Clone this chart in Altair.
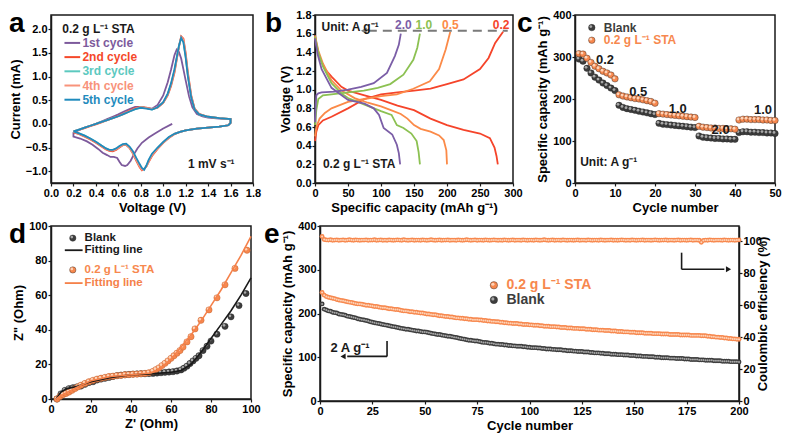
import altair as alt
import pandas as pd

FONT = "Liberation Sans"
INK = "#1a1a1a"
SUP = "\u207b\u00b9"

# ---------------- panel a : cyclic voltammetry ----------------
cv_names = ["1st cycle", "2nd cycle", "3rd cycle", "4th cycle", "5th cycle"]
cv_colors = ["#7d5a9c", "#f5482a", "#5cc9bf", "#f8937b", "#1f8bbd"]

cv1_v = [1.08, 1.00, 0.93, 0.87, 0.81, 0.77, 0.74, 0.71, 0.68, 0.66, 0.63, 0.61, 0.59, 0.56, 0.53, 0.50, 0.46, 0.42, 0.37, 0.32, 0.26, 0.20,
         0.20, 0.25, 0.30, 0.35, 0.40, 0.45, 0.50, 0.55, 0.60, 0.65, 0.70, 0.75, 0.80, 0.85, 0.90, 0.95, 1.00, 1.04, 1.07, 1.10, 1.12, 1.14, 1.16, 1.18, 1.20, 1.23, 1.26, 1.30, 1.35, 1.40, 1.50, 1.60,
         1.60, 1.58, 1.50, 1.40, 1.30, 1.20, 1.15, 1.10]
cv1_i = [0.00, -0.10, -0.20, -0.29, -0.40, -0.52, -0.64, -0.78, -0.87, -0.89, -0.87, -0.80, -0.72, -0.70, -0.70, -0.66, -0.61, -0.53, -0.44, -0.37, -0.31, -0.27,
         -0.19, -0.13, -0.08, -0.04, 0.00, 0.05, 0.10, 0.15, 0.20, 0.26, 0.31, 0.36, 0.36, 0.33, 0.32, 0.40, 0.60, 0.88, 1.15, 1.45, 1.57, 1.52, 1.38, 1.15, 0.92, 0.58, 0.35, 0.21, 0.16, 0.13, 0.11, 0.10,
         0.02, -0.03, -0.06, -0.08, -0.10, -0.14, -0.17, -0.21]

cv_loop_v = [0.20, 0.25, 0.30, 0.35, 0.40, 0.45, 0.50, 0.55, 0.60, 0.65, 0.70, 0.75, 0.80, 0.85, 0.90, 0.95, 1.00, 1.04, 1.07, 1.10, 1.12, 1.14, 1.16, 1.18, 1.20, 1.22, 1.25, 1.28, 1.32, 1.40, 1.50, 1.60,
             1.60, 1.58, 1.50, 1.40, 1.30, 1.20, 1.15, 1.10, 1.05, 1.00, 0.95, 0.90, 0.87, 0.85, 0.83, 0.81, 0.79, 0.76, 0.73, 0.70, 0.67, 0.64, 0.61, 0.58, 0.55, 0.52, 0.49, 0.45, 0.40, 0.35, 0.30, 0.25, 0.20]
cv2_i = [-0.17, -0.13, -0.09, -0.05, -0.01, 0.03, 0.08, 0.12, 0.17, 0.22, 0.28, 0.33, 0.36, 0.34, 0.31, 0.34, 0.44, 0.60, 0.80, 1.08, 1.35, 1.62, 1.85, 1.80, 1.50, 1.08, 0.60, 0.32, 0.21, 0.15, 0.12, 0.10,
         0.02, -0.03, -0.06, -0.08, -0.10, -0.14, -0.17, -0.22, -0.30, -0.40, -0.53, -0.68, -0.81, -0.90, -0.95, -0.98, -0.92, -0.78, -0.63, -0.51, -0.45, -0.45, -0.50, -0.55, -0.58, -0.57, -0.54, -0.48, -0.40, -0.33, -0.27, -0.22, -0.18]
cv3_i = [-0.16, -0.12, -0.08, -0.04, 0.00, 0.04, 0.08, 0.12, 0.16, 0.21, 0.26, 0.31, 0.35, 0.33, 0.30, 0.35, 0.45, 0.63, 0.84, 1.13, 1.38, 1.64, 1.82, 1.74, 1.42, 1.02, 0.56, 0.31, 0.20, 0.15, 0.12, 0.10,
         0.02, -0.03, -0.06, -0.08, -0.10, -0.14, -0.17, -0.21, -0.29, -0.39, -0.51, -0.65, -0.78, -0.89, -0.96, -0.95, -0.88, -0.75, -0.61, -0.50, -0.44, -0.44, -0.48, -0.53, -0.56, -0.55, -0.52, -0.46, -0.38, -0.31, -0.25, -0.20, -0.16]
cv4_i = [-0.16, -0.12, -0.08, -0.04, 0.00, 0.04, 0.08, 0.12, 0.16, 0.21, 0.27, 0.32, 0.35, 0.33, 0.31, 0.35, 0.45, 0.62, 0.83, 1.11, 1.37, 1.64, 1.84, 1.78, 1.46, 1.04, 0.58, 0.31, 0.20, 0.15, 0.12, 0.10,
         0.02, -0.03, -0.06, -0.08, -0.10, -0.14, -0.17, -0.21, -0.29, -0.39, -0.52, -0.66, -0.80, -0.90, -0.96, -0.97, -0.90, -0.76, -0.62, -0.50, -0.44, -0.44, -0.49, -0.54, -0.56, -0.56, -0.53, -0.47, -0.39, -0.32, -0.26, -0.21, -0.17]
cv5_i = [-0.16, -0.12, -0.08, -0.04, 0.00, 0.04, 0.08, 0.12, 0.16, 0.21, 0.26, 0.31, 0.34, 0.32, 0.30, 0.35, 0.46, 0.64, 0.86, 1.15, 1.40, 1.65, 1.82, 1.72, 1.40, 1.00, 0.55, 0.30, 0.20, 0.15, 0.12, 0.10,
         0.02, -0.03, -0.06, -0.08, -0.10, -0.14, -0.17, -0.21, -0.28, -0.38, -0.50, -0.63, -0.76, -0.88, -0.97, -0.93, -0.85, -0.72, -0.58, -0.48, -0.42, -0.43, -0.47, -0.52, -0.55, -0.55, -0.52, -0.46, -0.38, -0.31, -0.25, -0.20, -0.16]

# ---------------- panel b : charge / discharge ----------------
gcd_rates = ["0.2", "0.5", "1.0", "2.0"]
gcd_colors = ["#f5442a", "#fb8a48", "#8cc152", "#7b5ea7"]
dis_cap = {
    "0.2": [0, 3, 8, 15, 25, 40, 50, 75, 100, 125, 150, 175, 200, 225, 250, 265, 272, 275, 277],
    "0.5": [0, 5, 12, 25, 40, 60, 80, 100, 115, 130, 140, 150, 160, 175, 188, 195, 199, 200],
    "1.0": [0, 5, 12, 25, 40, 50, 75, 100, 116, 124, 134, 146, 154, 157, 159],
    "2.0": [0, 4, 10, 25, 50, 75, 89, 97, 104, 117, 124, 127, 129],
}
dis_v = {
    "0.2": [1.58, 1.45, 1.33, 1.22, 1.14, 1.03, 0.99, 0.94, 0.89, 0.83, 0.78, 0.69, 0.62, 0.57, 0.53, 0.48, 0.38, 0.29, 0.20],
    "0.5": [1.58, 1.42, 1.28, 1.10, 0.99, 0.91, 0.86, 0.82, 0.78, 0.74, 0.69, 0.62, 0.58, 0.55, 0.51, 0.46, 0.35, 0.20],
    "1.0": [1.57, 1.40, 1.25, 1.07, 0.96, 0.91, 0.84, 0.77, 0.73, 0.62, 0.59, 0.53, 0.45, 0.33, 0.20],
    "2.0": [1.55, 1.38, 1.22, 1.02, 0.89, 0.85, 0.80, 0.73, 0.59, 0.52, 0.41, 0.32, 0.20],
}
chg_cap = {
    "0.2": [0, 2, 5, 12, 25, 50, 75, 100, 125, 150, 175, 200, 225, 250, 263, 273, 285],
    "0.5": [0, 2, 7, 15, 25, 50, 75, 100, 124, 149, 174, 188, 198, 205],
    "1.0": [0, 2, 5, 12, 25, 50, 74, 95, 114, 134, 149, 155, 159],
    "2.0": [0, 1, 2, 5, 10, 30, 50, 70, 89, 109, 121, 127, 130],
}
chg_v = {
    "0.2": [0.45, 0.55, 0.62, 0.67, 0.71, 0.80, 0.90, 0.95, 0.97, 0.99, 1.01, 1.06, 1.11, 1.22, 1.34, 1.50, 1.62],
    "0.5": [0.50, 0.60, 0.69, 0.75, 0.80, 0.87, 0.90, 0.93, 0.95, 1.01, 1.09, 1.22, 1.43, 1.62],
    "1.0": [0.62, 0.78, 0.90, 0.94, 0.95, 0.97, 0.99, 1.02, 1.06, 1.16, 1.32, 1.45, 1.60],
    "2.0": [0.65, 0.82, 0.94, 0.96, 0.97, 0.98, 1.00, 1.03, 1.07, 1.18, 1.36, 1.48, 1.60],
}

# ---------------- panel c : rate capability ----------------
rate_cycles = list(range(1, 51))
rate_blank = [295, 290, 273, 262, 252, 245, 238, 232, 226, 220,
              185, 180, 177, 175, 173, 171, 169, 167, 165, 163,
              142, 140, 139, 138, 137, 136, 135, 134, 133, 132,
              112, 109, 108, 107, 106, 106, 105, 105, 104, 104,
              120, 122, 122, 121, 121, 120, 120, 119, 119, 118]
rate_sta = [308, 307, 297, 287, 278, 272, 266, 262, 257, 248,
            210, 207, 205, 203, 201, 200, 198, 196, 194, 190,
            165, 164, 163, 162, 161, 160, 159, 158, 157, 156,
            135, 133, 132, 131, 131, 130, 130, 129, 129, 128,
            150, 152, 152, 151, 151, 151, 150, 150, 149, 149]

# ---------------- panel d : Nyquist ----------------
eis_blank_x = [3, 5, 7, 9, 11, 13, 15, 17, 19, 21, 23, 25, 27, 29, 31, 33, 35, 37, 39, 41, 43, 45, 47, 49, 51, 53, 55, 57, 59, 61, 63, 65, 66.5, 68, 69.5, 71, 72.5, 74, 76, 78, 80, 83, 87, 90, 94, 97.5]
eis_blank_y = [0, 3, 5, 6, 6.5, 7, 7.5, 8.5, 9.5, 10, 11, 11.5, 12, 12.5, 13, 13.5, 13.8, 14, 14.2, 14.4, 14.5, 14.6, 14.6, 14.7, 14.8, 15, 15.2, 15.4, 15.6, 15.8, 16.2, 16.8, 17.8, 19, 20.5, 22, 23.5, 25, 28, 30.5, 33.5, 37.5, 42, 47.5, 54, 61]
eis_blank_fx = [2.5, 5, 8, 12, 20, 30, 40, 50, 60, 65, 70, 75, 80, 85, 90, 95, 100]
eis_blank_fy = [0, 4, 6, 7, 10, 12.5, 14, 14.5, 15.5, 16.5, 20, 27, 35, 43, 51, 60, 70]
eis_sta_x = [3, 4.5, 6, 7.5, 9, 10.5, 12, 13.5, 15, 17, 19, 21, 23, 25, 27, 29, 31, 33, 35, 37, 39, 41, 43, 45, 47, 49, 51, 52.5, 54, 55.5, 57, 58.5, 60, 61.5, 63, 64.5, 66, 68, 70, 72, 75, 79, 83, 87, 92, 98]
eis_sta_y = [0, 1.5, 2.5, 3.2, 4, 5, 6, 7, 8, 9, 10, 10.8, 11.5, 12, 12.5, 13, 13.2, 13.5, 13.7, 14, 14.1, 14.3, 14.4, 14.6, 14.8, 15.2, 16, 17, 18, 19.3, 20.6, 22, 23.5, 25, 26.5, 28, 30, 33, 36, 40.5, 45.5, 51.5, 58.5, 66, 75.5, 86]
eis_sta_fx = [2.5, 5, 10, 15, 20, 30, 40, 50, 55, 60, 65, 70, 75, 80, 85, 90, 95, 100]
eis_sta_fy = [0, 2, 5, 8, 10.5, 13, 14, 15, 17.5, 23, 30, 37, 45, 54, 63, 73, 83, 94]

# ---------------- panel e : long cycling ----------------
cyc_n = list(range(1, 201))
cyc_blank = [222, 210, 208, 206, 205, 203, 202, 201, 199, 198,
             197, 196, 194, 193, 192, 191, 190, 188, 187, 186,
             185, 184, 183, 181, 180, 179, 178, 177, 176, 175,
             174, 173, 172, 171, 170, 169, 168, 167, 166, 165,
             164, 164, 163, 162, 161, 160, 160, 159, 158, 158,
             157, 156, 155, 154, 153, 152, 152, 151, 150, 149,
             148, 148, 147, 146, 145, 144, 143, 142, 141, 140,
             139, 139, 138, 137, 137, 136, 135, 134, 134, 133,
             132, 132, 131, 130, 130, 129, 129, 128, 128, 127,
             127, 126, 126, 125, 125, 125, 124, 124, 123, 123,
             122, 122, 122, 121, 121, 120, 120, 119, 119, 119,
             118, 118, 117, 117, 117, 116, 116, 115, 115, 115,
             114, 114, 113, 113, 113, 112, 112, 112, 111, 111,
             110, 110, 110, 109, 109, 108, 108, 108, 107, 107,
             107, 106, 106, 106, 105, 105, 105, 104, 104, 104,
             103, 103, 103, 102, 102, 102, 101, 101, 101, 100,
             100, 100, 99, 99, 99, 99, 98, 98, 98, 97,
             97, 97, 97, 96, 96, 96, 95, 95, 95, 95,
             94, 94, 94, 93, 93, 93, 93, 92, 92, 92,
             92, 91, 91, 91, 91, 90, 90, 90, 90, 89]
cyc_sta = [248, 242, 239, 237, 236, 235, 234, 232, 231, 230,
           229, 228, 227, 226, 225, 224, 223, 222, 222, 221,
           220, 219, 219, 218, 217, 216, 216, 215, 214, 213,
           213, 212, 211, 211, 210, 209, 209, 208, 207, 206,
           206, 205, 204, 204, 203, 203, 202, 201, 201, 200,
           199, 199, 198, 197, 197, 196, 195, 195, 194, 193,
           193, 192, 192, 191, 190, 190, 189, 189, 188, 188,
           187, 187, 186, 186, 186, 185, 185, 184, 184, 183,
           183, 182, 182, 181, 181, 180, 180, 179, 179, 178,
           178, 177, 177, 177, 176, 176, 175, 175, 175, 174,
           174, 173, 173, 173, 172, 172, 171, 171, 171, 170,
           170, 170, 169, 169, 168, 168, 168, 167, 167, 167,
           166, 166, 166, 165, 165, 165, 164, 164, 164, 163,
           163, 163, 162, 162, 162, 161, 161, 161, 160, 160,
           160, 159, 159, 159, 158, 158, 158, 157, 157, 157,
           156, 156, 156, 156, 155, 155, 155, 155, 154, 154,
           154, 154, 153, 153, 153, 153, 152, 152, 152, 152,
           152, 151, 151, 151, 151, 151, 150, 150, 150, 150,
           150, 149, 149, 149, 148, 148, 147, 147, 146, 146,
           145, 145, 144, 144, 143, 143, 142, 142, 141, 141]
cyc_ce = [102.8, 101.0, 100.7, 100.6, 100.8, 100.5, 100.6, 100.7, 100.5, 100.6,
          100.7, 100.5, 100.6, 100.8, 100.6, 100.5, 100.7, 100.6, 100.5, 100.6,
          100.6, 100.7, 100.5, 100.6, 100.6, 100.8, 100.5, 100.6, 100.7, 100.5,
          100.6, 100.5, 100.7, 100.6, 100.5, 100.6, 100.7, 100.6, 100.5, 100.8,
          100.6, 100.5, 100.6, 100.7, 100.5, 100.6, 100.6, 100.5, 100.7, 100.6,
          100.5, 100.6, 100.8, 100.6, 100.5, 100.6, 100.7, 100.5, 100.6, 100.6,
          100.7, 100.5, 100.6, 100.6, 100.5, 100.7, 100.6, 100.5, 100.6, 100.8,
          100.6, 100.5, 100.6, 100.7, 100.5, 100.6, 100.6, 100.5, 100.7, 100.6,
          100.5, 100.6, 100.7, 100.6, 100.5, 100.6, 100.5, 100.7, 100.6, 100.5,
          100.6, 100.7, 100.5, 100.6, 100.6, 100.5, 100.7, 100.6, 100.5, 100.6,
          100.6, 100.5, 100.7, 100.6, 100.5, 100.6, 100.8, 100.6, 100.5, 100.6,
          100.7, 100.5, 100.6, 100.6, 100.5, 100.7, 100.6, 100.5, 100.6, 100.6,
          100.5, 100.6, 100.7, 100.5, 100.6, 100.6, 100.5, 100.7, 100.6, 100.5,
          100.6, 100.6, 100.5, 100.7, 100.6, 100.5, 100.6, 100.6, 100.7, 100.5,
          100.6, 100.5, 100.6, 100.7, 100.6, 100.5, 100.6, 100.5, 100.7, 100.6,
          100.5, 100.6, 100.6, 100.7, 100.5, 100.6, 100.6, 100.5, 100.6, 100.7,
          100.6, 100.5, 100.6, 100.6, 100.7, 100.5, 100.6, 100.6, 100.5, 100.6,
          100.7, 100.5, 100.6, 100.6, 100.5, 100.6, 100.7, 100.5, 100.6, 100.6,
          100.5, 99.2, 100.4, 100.6, 100.5, 100.7, 100.6, 100.5, 100.6, 100.6,
          100.6, 100.5, 100.7, 100.6, 100.5, 100.6, 100.6, 100.5, 100.6, 100.7]

DARK = "#3d3d3d"
DARK_HL = "#a8a8a8"
ORNG = "#f7884e"
ORNG_HL = "#fdd3b8"

ONE = pd.DataFrame({"o": [0]})


def AX(**kw):
    return alt.Axis(labelOverlap=False, labelFlush=False, tickCount=40, **kw)


def txt(x, y, s, color=INK, size=12, align="left", baseline="middle"):
    return alt.Chart(ONE).mark_text(text=s, color=color, fontSize=size, fontWeight="bold",
                                    align=align, baseline=baseline, font=FONT).encode(
        x=alt.datum(x), y=alt.datum(y))


def seg(x1, x2, y1, y2, color, width=2.0, dash=None):
    kw = dict(color=color, strokeWidth=width)
    if dash:
        kw["strokeDash"] = dash
    return alt.Chart(ONE).mark_rule(**kw).encode(
        x=alt.datum(x1), x2=alt.datum(x2), y=alt.datum(y1), y2=alt.datum(y2))


def tri(x, y, shape, color, size=40):
    return alt.Chart(ONE).mark_point(shape=shape, filled=True, color=color, size=size, opacity=1).encode(
        x=alt.datum(x), y=alt.datum(y))


def dot(x, y, color, hl, size=40):
    return [alt.Chart(ONE).mark_circle(color=color, size=size, opacity=1, stroke="#222222", strokeWidth=0.4).encode(
                x=alt.datum(x), y=alt.datum(y)),
            alt.Chart(ONE).mark_circle(color=hl, size=size * 0.18, opacity=1, xOffset=-1, yOffset=-1).encode(
                x=alt.datum(x), y=alt.datum(y))]


def letter(ch, dx):
    return alt.Chart(ONE).mark_text(text=ch, fontSize=28, fontWeight="bold", align="left", baseline="top",
                                    font=FONT, color="black").encode(x=alt.value(dx), y=alt.value(-5))


# ======== panel a ========
rows = []
for name, vs, cs in [(cv_names[0], cv1_v, cv1_i), (cv_names[1], cv_loop_v, cv2_i), (cv_names[2], cv_loop_v, cv3_i),
                     (cv_names[3], cv_loop_v, cv4_i), (cv_names[4], cv_loop_v, cv5_i)]:
    for k, (v, c) in enumerate(zip(vs, cs)):
        rows.append({"cycle": name, "k": k, "v": v, "i": c})
df_cv = pd.DataFrame(rows)

xa = alt.X("v:Q", scale=alt.Scale(domain=[0, 1.8], nice=False, zero=False),
           axis=AX(values=[0.0, 0.2, 0.4, 0.6, 0.8, 1.0, 1.2, 1.4, 1.6, 1.8], format=".1f", title="Voltage (V)"))
ya = alt.Y("i:Q", scale=alt.Scale(domain=[-1.25, 2.3], nice=False, zero=False),
           axis=AX(values=[-1.0, -0.5, 0.0, 0.5, 1.0, 1.5, 2.0], format=".1f", title="Current (mA)"))
a_layers = []
for name, col in zip(cv_names, cv_colors):
    a_layers.append(alt.Chart(df_cv).transform_filter(alt.datum.cycle == name)
                    .mark_line(color=col, strokeWidth=1.8).encode(x=xa, y=ya, order="k:Q"))
a_layers.append(txt(0.10, 2.0, "0.2 g L" + SUP + " STA", INK, 12))
for j, (name, col) in enumerate(zip(cv_names, cv_colors)):
    yv = 1.71 - 0.30 * j
    a_layers.append(seg(0.12, 0.26, yv, yv, col, 2))
    a_layers.append(txt(0.28, yv, name, col, 12))
a_layers.append(txt(1.22, -0.85, "1 mV s" + SUP, INK, 12))
a_layers.append(letter("a", -42))
pa = alt.layer(*a_layers).properties(width=202, height=168)

# ======== panel b ========
rows = []
for r in gcd_rates:
    for k, (c, v) in enumerate(zip(dis_cap[r], dis_v[r])):
        rows.append({"rate": r, "br": "d", "k": k, "cap": c, "v": v})
    for k, (c, v) in enumerate(zip(chg_cap[r], chg_v[r])):
        rows.append({"rate": r, "br": "c", "k": k, "cap": c, "v": v})
df_b = pd.DataFrame(rows)
xb = alt.X("cap:Q", scale=alt.Scale(domain=[0, 300], nice=False),
           axis=AX(values=[0, 50, 100, 150, 200, 250, 300], title="Specific capacity (mAh g" + SUP + ")"))
yb = alt.Y("v:Q", scale=alt.Scale(domain=[0, 1.8], nice=False),
           axis=AX(values=[0.0, 0.2, 0.4, 0.6, 0.8, 1.0, 1.2, 1.4, 1.6, 1.8], format=".1f", title="Voltage (V)"))
b_layers = []
for r, col in zip(gcd_rates, gcd_colors):
    for br in ["d", "c"]:
        b_layers.append(alt.Chart(df_b).transform_filter((alt.datum.rate == r) & (alt.datum.br == br))
                        .mark_line(color=col, strokeWidth=1.8).encode(x=xb, y=yb, order="k:Q"))
b_layers.append(seg(80, 292, 1.63, 1.63, "#7a7a7a", 2, [9, 6]))
b_layers.append(tri(74, 1.63, "triangle-left", "#7a7a7a", 45))
for r, col, xc in zip(gcd_rates, gcd_colors, [282, 205, 165, 134]):
    b_layers.append(txt(xc, 1.69, r, col, 12, "center"))
b_layers.append(txt(10, 1.675, "Unit: A g" + SUP, INK, 12))
b_layers.append(txt(12, 0.2, "0.2 g L" + SUP + " STA", INK, 12))
b_layers.append(letter("b", -50))
pb = alt.layer(*b_layers).properties(width=198, height=168)

# ======== panel c ========
df_c = pd.DataFrame({"cyc": rate_cycles, "blank": rate_blank, "sta": rate_sta})
xc_ = alt.X("cyc:Q", scale=alt.Scale(domain=[0, 50], nice=False),
            axis=AX(values=[0, 10, 20, 30, 40, 50], title="Cycle number"))


def yc(field):
    return alt.Y(field + ":Q", scale=alt.Scale(domain=[0, 400], nice=False),
                 axis=AX(values=[0, 100, 200, 300, 400], title="Specific capacity (mAh g" + SUP + ")"))


c_layers = []
for field, col, hl in [("blank", DARK, DARK_HL), ("sta", ORNG, ORNG_HL)]:
    c_layers.append(alt.Chart(df_c).mark_circle(color=col, size=42, opacity=1, stroke="#222222", strokeWidth=0.4)
                    .encode(x=xc_, y=yc(field)))
    c_layers.append(alt.Chart(df_c).mark_circle(color=hl, size=8, opacity=1, xOffset=-1, yOffset=-1)
                    .encode(x=xc_, y=yc(field)))
c_layers += dot(4.2, 370, DARK, DARK_HL, 42)
c_layers.append(txt(7.2, 370, "Blank", DARK, 12))
c_layers += dot(4.2, 340, ORNG, ORNG_HL, 42)
c_layers.append(txt(7.2, 340, "0.2 g L" + SUP + " STA", ORNG, 12))
for s, xv, yv in [("0.2", 7.5, 294), ("0.5", 15.8, 217), ("1.0", 25.7, 176), ("2.0", 36.4, 127), ("1.0", 47, 173)]:
    c_layers.append(txt(xv, yv, s, INK, 13, "center"))
c_layers.append(txt(1.3, 51, "Unit: A g" + SUP, INK, 12))
c_layers.append(letter("c", -58))
pc = alt.layer(*c_layers).properties(width=200, height=168)

# ======== panel d ========
df_db = pd.DataFrame({"x": eis_blank_x, "y": eis_blank_y})
df_ds = pd.DataFrame({"x": eis_sta_x, "y": eis_sta_y})
df_dbf = pd.DataFrame({"x": eis_blank_fx, "y": eis_blank_fy})
df_dsf = pd.DataFrame({"x": eis_sta_fx, "y": eis_sta_fy})
xd = alt.X("x:Q", scale=alt.Scale(domain=[0, 100], nice=False),
           axis=AX(values=[0, 20, 40, 60, 80, 100], title="Z' (Ohm)"))
yd = alt.Y("y:Q", scale=alt.Scale(domain=[0, 100], nice=False),
           axis=AX(values=[0, 20, 40, 60, 80, 100], title='Z" (Ohm)'))
d_layers = [
    alt.Chart(df_db).mark_circle(color=DARK, size=40, opacity=1, stroke="#222222", strokeWidth=0.4).encode(x=xd, y=yd),
    alt.Chart(df_db).mark_circle(color=DARK_HL, size=7, opacity=1, xOffset=-1, yOffset=-1).encode(x=xd, y=yd),
    alt.Chart(df_ds).mark_circle(color=ORNG, size=40, opacity=1, stroke="#b85a2a", strokeWidth=0.4).encode(x=xd, y=yd),
    alt.Chart(df_ds).mark_circle(color=ORNG_HL, size=7, opacity=1, xOffset=-1, yOffset=-1).encode(x=xd, y=yd),
    alt.Chart(df_dbf).mark_line(color=INK, strokeWidth=1.6).encode(x=xd, y=yd),
    alt.Chart(df_dsf).mark_line(color="#f5814a", strokeWidth=1.6).encode(x=xd, y=yd),
]
d_layers += dot(10.9, 93, DARK, DARK_HL, 40)
d_layers.append(txt(16.8, 93, "Blank", INK, 11.5))
d_layers.append(seg(6.9, 15.8, 86, 86, INK, 1.8))
d_layers.append(txt(16.8, 86, "Fitting line", INK, 11.5))
d_layers += dot(10.9, 74.6, ORNG, ORNG_HL, 40)
d_layers.append(txt(16.8, 74.6, "0.2 g L" + SUP + " STA", ORNG, 11.5))
d_layers.append(seg(6.9, 15.8, 67, 67, "#f5814a", 1.8))
d_layers.append(txt(16.8, 67, "Fitting line", "#f5814a", 11.5))
d_layers.append(letter("d", -42))
pdd = alt.layer(*d_layers).properties(width=200, height=173)

# ======== panel e ========
df_e = pd.DataFrame({"cyc": cyc_n, "blank": cyc_blank, "sta": cyc_sta, "ce": cyc_ce})
xe = alt.X("cyc:Q", scale=alt.Scale(domain=[0, 200], nice=False),
           axis=AX(values=[0, 25, 50, 75, 100, 125, 150, 175, 200], title="Cycle number"))


def yl(field):
    return alt.Y(field + ":Q", scale=alt.Scale(domain=[0, 400], nice=False),
                 axis=AX(values=[0, 100, 200, 300, 400], title="Specific capacity (mAh g" + SUP + ")"))


left = []
for field, col, hl in [("blank", DARK, DARK_HL), ("sta", ORNG, ORNG_HL)]:
    left.append(alt.Chart(df_e).mark_circle(color=col, size=24, opacity=1).encode(x=xe, y=yl(field)))
    left.append(alt.Chart(df_e).mark_circle(color=hl, size=4, opacity=1).encode(x=xe, y=yl(field)))
left += dot(83, 264.5, ORNG, ORNG_HL, 55)
left.append(txt(89, 264.5, "0.2 g L" + SUP + " STA", ORNG, 14))
left += dot(83, 231, DARK, DARK_HL, 55)
left.append(txt(89, 231, "Blank", DARK, 14))
left.append(seg(172.6, 172.6, 339, 301, INK, 1.6))
left.append(seg(172.6, 193, 301, 301, INK, 1.6))
left.append(tri(195, 301, "triangle-right", INK, 35))
left.append(seg(32, 32, 137, 102, INK, 1.6))
left.append(seg(32, 13, 102, 102, INK, 1.6))
left.append(tri(11, 102, "triangle-left", INK, 35))
left.append(txt(5, 121, "2 A g" + SUP, INK, 13))
left.append(letter("e", -56))

ye = alt.Y("ce:Q", scale=alt.Scale(domain=[0, 109.4], nice=False),
           axis=AX(orient="right", values=[0, 20, 40, 60, 80, 100], title="Coulombic efficiency (%)",
                   titleAngle=270, titlePadding=8))
right = [
    alt.Chart(df_e).mark_circle(color=ORNG, size=24, opacity=1).encode(x=xe, y=ye),
    alt.Chart(df_e).mark_circle(color=ORNG_HL, size=4, opacity=1).encode(x=xe, y=ye),
]
pe = alt.layer(alt.layer(*left), alt.layer(*right)).resolve_scale(y="independent").properties(width=419, height=175)

row1 = alt.hconcat(pa, pb, pc, spacing=62, bounds="flush")
row2 = alt.hconcat(pdd, pe, spacing=69, bounds="flush")
chart = (alt.vconcat(row1, row2, spacing=4)
         .properties(padding=0, background="white")
         .configure_axis(labelFont=FONT, titleFont=FONT, labelFontWeight="bold", titleFontWeight="bold",
                         labelFontSize=11, titleFontSize=13, labelColor="black", titleColor="black",
                         domainColor=INK, domainWidth=1.5, tickColor=INK, tickSize=3, tickWidth=1.2,
                         grid=False, labelPadding=1, titlePadding=3)
         .configure_view(stroke=INK, strokeWidth=1.5)
         .configure_text(font=FONT))

chart.save("out.html", embed_options={"renderer": "svg", "actions": False})
